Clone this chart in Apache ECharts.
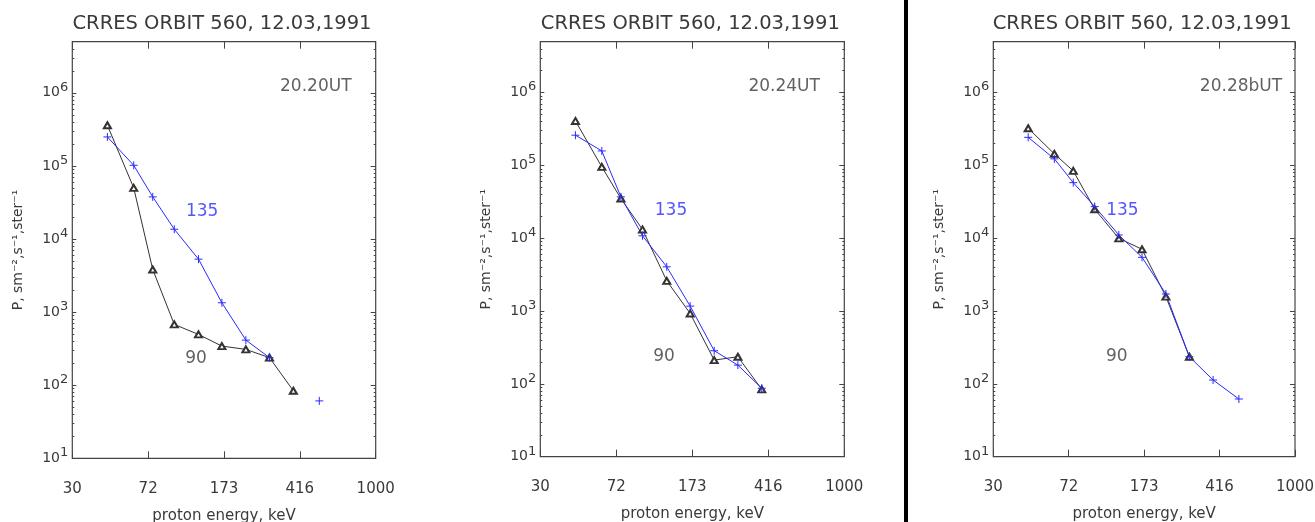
<!DOCTYPE html>
<html><head><meta charset="utf-8">
<script src="https://cdn.jsdelivr.net/npm/echarts@6/dist/echarts.min.js"></script>
<style>html,body{margin:0;padding:0;background:#fff}#c{width:1315px;height:522px}</style>
</head><body><div id="c"></div>
<script>
// ---------- data ----------
const energies = [45, 61, 76, 97.5, 129, 169, 223, 293, 386, 521]; // keV
const panelTitles = ['CRRES ORBIT 560, 12.03,1991', 'CRRES ORBIT 560, 12.03,1991', 'CRRES ORBIT 560, 12.03,1991'];
const timeLabels = ['20.20UT', '20.24UT', '20.28bUT'];
const pitchLabels = ['135', '90'];
const xTickLabels = ['30', '72', '173', '416', '1000'];
const yTickExponents = [1, 2, 3, 4, 5, 6];
// flux, pitch angle 90 (black triangles)
const p1_90  = [3.6e5, 5.0e4, 3830, 678, 495, 343, 309, 238, 84];
const p2_90  = [4.08e5, 9.55e4, 3.51e4, 1.32e4, 2600, 927, 212, 236, 84];
const p3_90  = [3.24e5, 1.44e5, 8.4e4, 2.5e4, 9980, 7050, 1577, 236];
// flux, pitch angle 135 (blue crosses); null = missing channel
const p1_135 = [2.49e5, 1.02e5, 3.77e4, 1.36e4, 5300, 1342, 414, 238, null, 61];
const p2_135 = [2.6e5, 1.58e5, 3.7e4, 1.08e4, 4050, 1170, 285, 181, 87];
const p3_135 = [2.43e5, 1.23e5, 5.8e4, 2.72e4, 1.11e4, 5470, 1716, 236, 113, 62];
// annotation anchors in data coordinates [energy, flux]
const timeLabelPos = [[331, 1.2e6], [331, 1.2e6], [331, 1.2e6]];
const label135Pos = [[134.5, 2.38e4], [135.5, 2.39e4], [134.6, 2.39e4]];
const label90Pos = [[125.4, 234], [125, 236], [126, 236]];
const xRange = [30, 1000];
const yRange = [10, 5e6];

// ---------- layout / style ----------
const layouts = [
  {left: 72.3, top: 41.7, width: 303.4, height: 416.6},
  {left: 540.3, top: 41.7, width: 304, height: 415},
  {left: 993.3, top: 41.7, width: 301.7, height: 415}
];
const FONT = 'DejaVu Sans';
const TXT = '#3a3a3a';
const AX = '#444';
const BLUE = '#2a2aff';
const BLACK = '#333';

const series90 = [p1_90, p2_90, p3_90];
const series135 = [p1_135, p2_135, p3_135];

const yLogMin = Math.log10(yRange[0]);
const yLogMax = Math.log10(yRange[1]);
const minorVals = [];
yTickExponents.forEach(e => { for (let k = 2; k <= 9; k++) { const v = e + Math.log10(k); if (v <= yLogMax) minorVals.push(v); } });

function toPairs(vals) {
  return vals.map((v, j) => [energies[j], v == null ? '-' : v]);
}

const grid = [], xAxis = [], yAxis = [], series = [], title = [];
layouts.forEach((L, i) => {
  grid.push(Object.assign({show: true, borderColor: AX, borderWidth: 1.2, backgroundColor: 'transparent',
    containLabel: false, outerBoundsMode: 'none'}, L));
  title.push({text: panelTitles[i], left: L.left + L.width / 2 - 2, top: 14, padding: 0, textAlign: 'center',
    textStyle: {fontFamily: FONT, fontSize: 19.5, fontWeight: 'normal', color: TXT}});
  const xi = xAxis.length;
  xAxis.push({type: 'log', gridIndex: i, min: xRange[0], max: xRange[1], position: 'bottom', show: false});
  xAxis.push({type: 'value', gridIndex: i, min: 0, max: xTickLabels.length - 1, interval: 1, position: 'bottom',
    axisLine: {show: false}, splitLine: {show: false},
    axisTick: {inside: true, length: 7, lineStyle: {color: AX}},
    axisLabel: {margin: 23, fontFamily: FONT, fontSize: 15, color: TXT, formatter: v => xTickLabels[Math.round(v)] || ''},
    name: 'proton energy, keV', nameLocation: 'middle', nameGap: 50,
    nameTextStyle: {fontFamily: FONT, fontSize: 15, color: TXT}});
  xAxis.push({type: 'value', gridIndex: i, min: 0, max: xTickLabels.length - 1, interval: 1, position: 'top',
    axisLine: {show: false}, splitLine: {show: false}, axisLabel: {show: false},
    axisTick: {inside: true, length: 7, lineStyle: {color: AX}}});
  const yi = yAxis.length;
  yAxis.push({type: 'log', gridIndex: i, min: yRange[0], max: yRange[1], position: 'left', show: false});
  yAxis.push({type: 'value', gridIndex: i, min: yLogMin, max: yLogMax, interval: 1, position: 'left',
    axisLine: {show: false}, splitLine: {show: false},
    axisTick: {inside: true, length: 4, lineStyle: {color: AX}},
    axisLabel: {margin: 4, formatter: v => {
        if (Math.abs(v - Math.round(v)) > 1e-6) return '';
        return '{b|10}{s|' + Math.round(v) + '}';
      },
      rich: {
        b: {fontFamily: FONT, fontSize: 14, color: TXT, lineHeight: 24},
        s: {fontFamily: FONT, fontSize: 13, color: TXT, lineHeight: 13, verticalAlign: 'top'}
      }},
    name: 'P, sm\u207B\u00B2,s\u207B\u00B9,ster\u207B\u00B9', nameLocation: 'middle', nameGap: 47, nameRotate: 90,
    nameTextStyle: {fontFamily: FONT, fontSize: 14, color: TXT}});
  yAxis.push({type: 'value', gridIndex: i, min: yLogMin, max: yLogMax, position: 'left',
    axisLine: {show: false}, splitLine: {show: false}, axisLabel: {show: false},
    axisTick: {inside: true, length: 2, customValues: minorVals, lineStyle: {color: AX}}});
  yAxis.push({type: 'value', gridIndex: i, min: yLogMin, max: yLogMax, interval: 1, position: 'right',
    axisLine: {show: false}, splitLine: {show: false}, axisLabel: {show: false},
    axisTick: {inside: true, length: 5, lineStyle: {color: AX}}});
  yAxis.push({type: 'value', gridIndex: i, min: yLogMin, max: yLogMax, position: 'right',
    axisLine: {show: false}, splitLine: {show: false}, axisLabel: {show: false},
    axisTick: {inside: true, length: 2, customValues: minorVals, lineStyle: {color: AX}}});

  series.push({type: 'line', name: '90', xAxisIndex: xi, yAxisIndex: yi, data: toPairs(series90[i]),
    symbol: 'emptyTriangle', symbolSize: [7, 6], showAllSymbol: true, connectNulls: false,
    lineStyle: {color: BLACK, width: 1}, itemStyle: {color: BLACK, borderColor: BLACK, borderWidth: 0.8}});
  series.push({type: 'line', name: '135', xAxisIndex: xi, yAxisIndex: yi, data: toPairs(series135[i]),
    symbol: 'path://M0,5H10M5,0V10', symbolSize: 8, showAllSymbol: true, connectNulls: false,
    lineStyle: {color: BLUE, width: 1}, itemStyle: {color: BLUE, borderColor: BLUE, borderWidth: 1}});
  series.push({type: 'scatter', xAxisIndex: xi, yAxisIndex: yi, symbolSize: 0, silent: true,
    data: [
      {value: timeLabelPos[i], label: {show: true, position: 'right', distance: 0, formatter: timeLabels[i], color: TXT, fontSize: 17, fontFamily: FONT}},
      {value: label135Pos[i], label: {show: true, position: 'inside', formatter: pitchLabels[0], color: BLUE, fontSize: 17, fontFamily: FONT}},
      {value: label90Pos[i], label: {show: true, position: 'inside', formatter: pitchLabels[1], color: TXT, fontSize: 17, fontFamily: FONT}}
    ]});
});

const chart = echarts.init(document.getElementById('c'), null, {renderer: 'canvas'});
chart.setOption({
  animation: false,
  backgroundColor: '#fff',
  title, grid, xAxis, yAxis, series,
  graphic: [{type: 'rect', shape: {x: 904, y: 0, width: 4, height: 522}, style: {fill: '#000'}, silent: true}]
});
</script></body></html>
